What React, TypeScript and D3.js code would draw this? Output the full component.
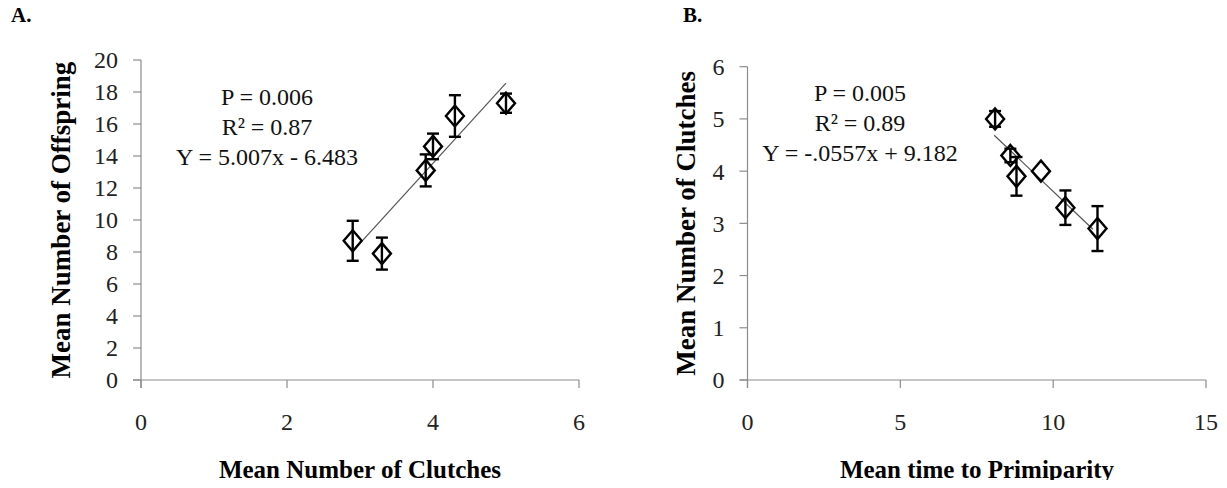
import React from "react";
import * as d3 from "d3";

// Panel A data: mean number of clutches vs mean number of offspring
const clutchesA = [2.9, 3.3, 3.9, 4.0, 4.3, 5.0];
const offspringA = [8.7, 7.9, 13.1, 14.6, 16.5, 17.3];
const offspringErrA = [1.25, 1.0, 1.0, 0.8, 1.3, 0.6];
const trendA = { slope: 5.007, intercept: -6.483, x0: 3.04, x1: 5.0 };
const ticksXA = [0, 2, 4, 6];
const ticksYA = [0, 2, 4, 6, 8, 10, 12, 14, 16, 18, 20];
const annotA = ["P = 0.006", "R\u00B2 = 0.87", "Y = 5.007x - 6.483"];

// Panel B data: mean time to primiparity vs mean number of clutches
const primiparityB = [8.1, 8.6, 8.8, 9.6, 10.4, 11.45];
const clutchesB = [5.0, 4.3, 3.9, 4.0, 3.3, 2.9];
const clutchesErrB = [0.15, 0.13, 0.37, 0.0, 0.33, 0.43];
const trendB = { slope: -0.557, intercept: 9.182, x0: 8.07, x1: 11.3 };
const ticksXB = [0, 5, 10, 15];
const ticksYB = [0, 1, 2, 3, 4, 5, 6];
const annotB = ["P = 0.005", "R\u00B2 = 0.89", "Y = -.0557x + 9.182"];

const FONT = "'Times New Roman', 'Liberation Serif', serif";
const AXIS = "#8c8c8c";

type PanelProps = {
  xs: number[];
  ys: number[];
  errs: number[];
  trend: { slope: number; intercept: number; x0: number; x1: number };
  xDomain: [number, number];
  yDomain: [number, number];
  xRange: [number, number];
  yRange: [number, number];
  xTicks: number[];
  yTicks: number[];
  annot: string[];
  annotX: number;
  annotY: number;
  xTitle: string;
  yTitle: string;
  xTitleX: number;
  yTitleX: number;
  letter: string;
  letterX: number;
};

function Panel(p: PanelProps) {
  const x = d3.scaleLinear().domain(p.xDomain).range(p.xRange);
  const y = d3.scaleLinear().domain(p.yDomain).range(p.yRange);
  const x0 = x(p.xDomain[0]);
  const y0 = y(p.yDomain[0]);
  const tl = 8;
  const line = d3
    .line<number>()
    .x((d) => x(d))
    .y((d) => y(p.trend.slope * d + p.trend.intercept));
  const hw = 9;
  const hh = 10.5;
  const cap = 6;
  const yMid = (p.yRange[0] + p.yRange[1]) / 2;
  return (
    <g>
      <text x={p.letterX} y={22} fontFamily={FONT} fontWeight="bold" fontSize={21}>
        {p.letter}
      </text>
      {/* axes */}
      <line x1={x0} x2={x0} y1={y(p.yDomain[1])} y2={y0 + tl} stroke={AXIS} strokeWidth={1.2} />
      <line x1={x0 - tl} x2={x(p.xDomain[1])} y1={y0} y2={y0} stroke={AXIS} strokeWidth={1.2} />
      {p.yTicks.map((t) => (
        <g key={"yt" + t}>
          <line x1={x0 - tl} x2={x0} y1={y(t)} y2={y(t)} stroke={AXIS} strokeWidth={1.2} />
          <text
            x={x0 - 23}
            y={y(t)}
            dy="0.35em"
            textAnchor="end"
            fontFamily={FONT}
            fontSize={24}
            fill="#222"
          >
            {t}
          </text>
        </g>
      ))}
      {p.xTicks.map((t) => (
        <g key={"xt" + t}>
          <line x1={x(t)} x2={x(t)} y1={y0} y2={y0 + tl} stroke={AXIS} strokeWidth={1.2} />
          <text x={x(t)} y={y0 + 50} textAnchor="middle" fontFamily={FONT} fontSize={24} fill="#222">
            {t}
          </text>
        </g>
      ))}
      {/* trend line */}
      <path d={line([p.trend.x0, p.trend.x1]) || ""} stroke="#555" strokeWidth={1.2} fill="none" />
      {/* error bars */}
      {p.xs.map((xv, i) => {
        const cx = x(xv);
        const top = y(p.ys[i] + p.errs[i]);
        const bot = y(p.ys[i] - p.errs[i]);
        if (p.errs[i] <= 0) return null;
        return (
          <g key={"e" + i} stroke="#000" strokeWidth={2.4}>
            <line x1={cx} x2={cx} y1={top} y2={bot} />
            <line x1={cx - cap} x2={cx + cap} y1={top} y2={top} />
            <line x1={cx - cap} x2={cx + cap} y1={bot} y2={bot} />
          </g>
        );
      })}
      {/* markers */}
      {p.xs.map((xv, i) => {
        const cx = x(xv);
        const cy = y(p.ys[i]);
        return (
          <path
            key={"m" + i}
            d={`M${cx},${cy - hh}L${cx + hw},${cy}L${cx},${cy + hh}L${cx - hw},${cy}Z`}
            fill="none"
            stroke="#000"
            strokeWidth={2.4}
          />
        );
      })}
      {/* annotation */}
      {p.annot.map((s, i) => (
        <text
          key={"a" + i}
          x={p.annotX}
          y={p.annotY + i * 30}
          textAnchor="middle"
          fontFamily={FONT}
          fontSize={24}
          fill="#111"
        >
          {s}
        </text>
      ))}
      {/* titles */}
      <text
        x={p.xTitleX}
        y={478}
        textAnchor="middle"
        fontFamily={FONT}
        fontWeight="bold"
        fontSize={25}
        fill="#000"
        clipPath="url(#titleClip)"
      >
        {p.xTitle}
      </text>
      <text
        transform={`translate(${p.yTitleX},${yMid}) rotate(-90)`}
        textAnchor="middle"
        fontFamily={FONT}
        fontWeight="bold"
        fontSize={27}
        fill="#000"
      >
        {p.yTitle}
      </text>
    </g>
  );
}

export default function App() {
  return (
    <svg
      width={1227}
      height={488}
      style={{ position: "absolute", left: 0, top: 0, background: "#fff" }}
    >
      <defs>
        <clipPath id="titleClip">
          <rect x={0} y={0} width={1227} height={480} />
        </clipPath>
      </defs>
      <rect width={1227} height={488} fill="#fff" />
      <Panel
        xs={clutchesA}
        ys={offspringA}
        errs={offspringErrA}
        trend={trendA}
        xDomain={[0, 6]}
        yDomain={[0, 20]}
        xRange={[141, 579]}
        yRange={[380, 60]}
        xTicks={ticksXA}
        yTicks={ticksYA}
        annot={annotA}
        annotX={267}
        annotY={105}
        xTitle="Mean Number of Clutches"
        yTitle="Mean Number of Offspring"
        xTitleX={360}
        yTitleX={70}
        letter="A."
        letterX={11}
      />
      <Panel
        xs={primiparityB}
        ys={clutchesB}
        errs={clutchesErrB}
        trend={trendB}
        xDomain={[0, 15]}
        yDomain={[0, 6]}
        xRange={[747.5, 1206]}
        yRange={[380, 66.7]}
        xTicks={ticksXB}
        yTicks={ticksYB}
        annot={annotB}
        annotX={860}
        annotY={101}
        xTitle="Mean time to Primiparity"
        yTitle="Mean Number of Clutches"
        xTitleX={977}
        yTitleX={695}
        letter="B."
        letterX={683}
      />
    </svg>
  );
}
